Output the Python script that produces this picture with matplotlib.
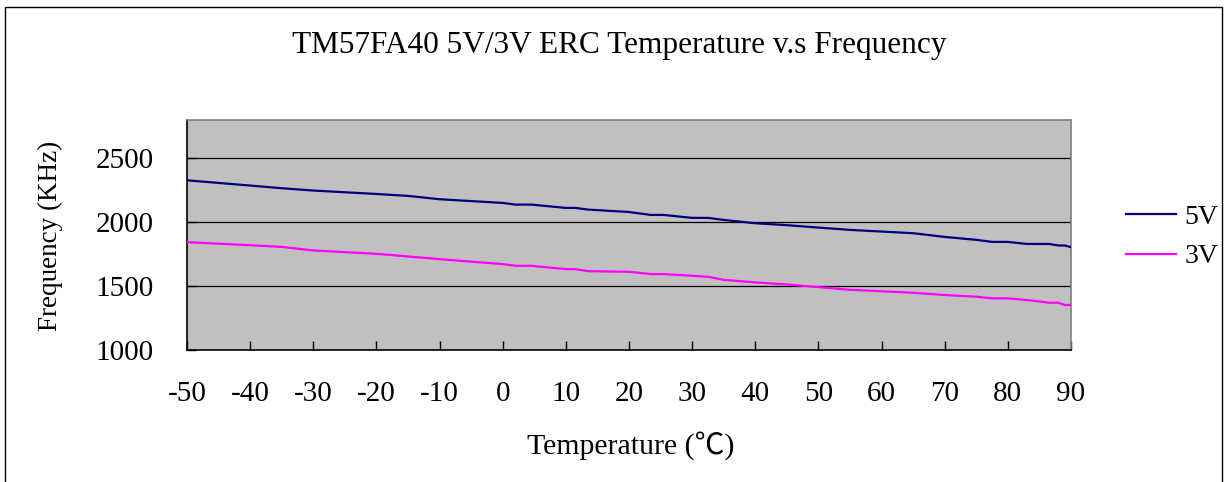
import matplotlib
matplotlib.use("Agg")
import matplotlib.pyplot as plt
from matplotlib.patches import Rectangle

# ───────── data ─────────
temps = [-50, -40, -35, -30, -20, -15, -10, 0, 2, 4.5, 10, 11.5, 13.5, 20, 21,
         23.5, 25.5, 30, 32.5, 35, 40, 45, 50, 55, 65, 70, 75, 77.5, 80, 83,
         85, 86.5, 88, 89, 90]
freq_5v = [2328, 2287, 2266, 2248, 2221, 2206, 2180, 2151, 2138, 2138, 2112,
           2112, 2099, 2080, 2073, 2057, 2057, 2034, 2034, 2018, 1992, 1977,
           1958, 1940, 1914, 1885, 1862, 1846, 1846, 1830, 1830, 1830, 1818,
           1818, 1805]
freq_3v = [1844, 1820, 1807, 1779, 1753, 1732, 1711, 1672, 1659, 1659, 1633,
           1633, 1617, 1612, 1607, 1594, 1594, 1581, 1573, 1549, 1529, 1513,
           1492, 1471, 1448, 1430, 1417, 1404, 1404, 1391, 1380, 1370, 1370,
           1352, 1352]
x_ticks = list(range(-50, 91, 10))
y_ticks = [1000, 1500, 2000, 2500]

FONT = ["Liberation Serif", "Noto Sans CJK TC", "DejaVu Serif"]
plt.rcParams["font.family"] = FONT
plt.rcParams["axes.unicode_minus"] = False

W, H = 1230, 482
fig = plt.figure(figsize=(W / 100, H / 100), dpi=100)
fig.patch.set_facecolor("white")

# outer chart border
fig.add_artist(Rectangle((5 / W, -0.05), 1217 / W, 1 - 7 / H + 0.05,
                         transform=fig.transFigure, fill=False,
                         edgecolor="black", linewidth=1.0))

ax = fig.add_axes([187 / W, 1 - 350 / H, 884 / W, 230 / H])
ax.set_facecolor("#C0C0C0")

for y in y_ticks[1:]:
    ax.axhline(y, color="black", linewidth=0.9, zorder=1)

ax.plot(temps, freq_5v, color="#000080", linewidth=1.6, label="5V", zorder=3)
ax.plot(temps, freq_3v, color="#FF00FF", linewidth=1.6, label="3V", zorder=3)

ax.set_xlim(-50, 90)
ax.set_ylim(1000, 2800)
ax.set_xticks(x_ticks)
ax.set_yticks(y_ticks)
ax.tick_params(direction="in", length=6.5, width=1.0, labelsize=21,
               color="black")
ax.tick_params(axis="x", pad=22)
ax.tick_params(axis="y", pad=24)

for side in ("top", "right"):
    ax.spines[side].set_color("#808080")
    ax.spines[side].set_linewidth(1.2)
for side in ("left", "bottom"):
    ax.spines[side].set_color("black")
    ax.spines[side].set_linewidth(1.2)

fig.text(619 / W, 1 - 46 / H, "TM57FA40 5V/3V ERC Temperature v.s Frequency",
         ha="center", va="center", fontsize=22.5)
fig.text(631 / W, 1 - 446 / H, "Temperature (\u2103)",
         ha="center", va="center", fontsize=21.5)
fig.text(50 / W, 1 - 236 / H, "Frequency (KHz)", rotation=90,
         ha="center", va="center", fontsize=19.5)

fig.legend(loc="center left", bbox_to_anchor=(1126 / W, 1 - 237 / H),
           frameon=False, fontsize=20, handlelength=1.8, handletextpad=0.3,
           labelspacing=0.5, borderpad=0, borderaxespad=0)

fig.savefig("out.png", dpi=100)
